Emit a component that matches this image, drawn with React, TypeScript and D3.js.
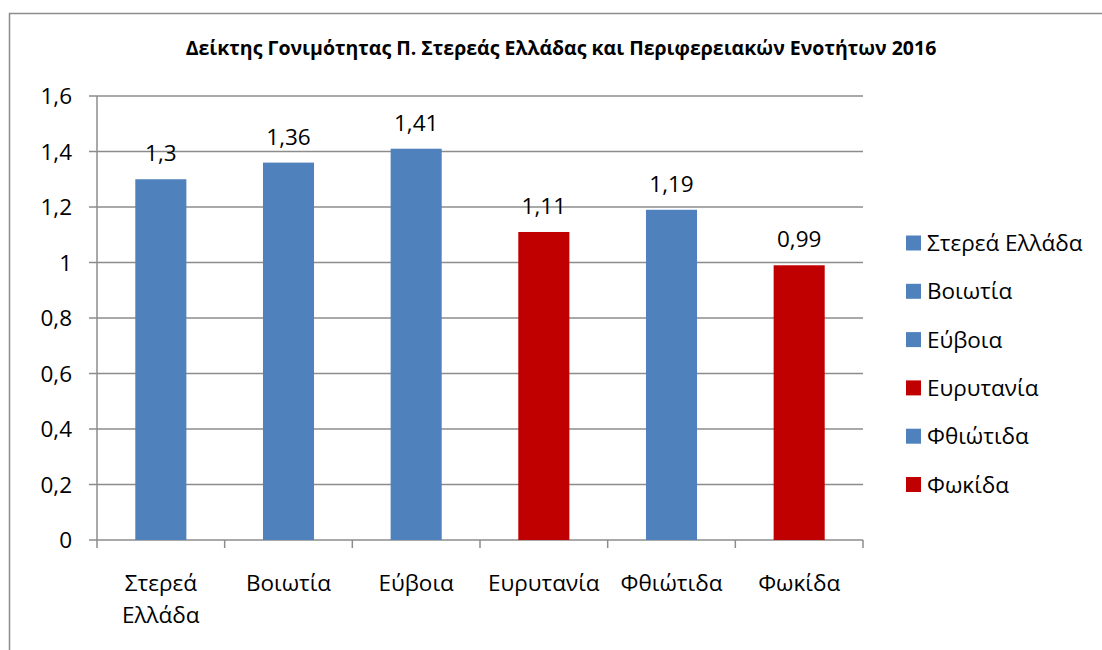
import React from 'react';
import { scaleBand, scaleLinear } from 'd3';

const categories = ['Στερεά Ελλάδα', 'Βοιωτία', 'Εύβοια', 'Ευρυτανία', 'Φθιώτιδα', 'Φωκίδα'];
const values = [1.3, 1.36, 1.41, 1.11, 1.19, 0.99];
const barColors = ['#4F81BD', '#4F81BD', '#4F81BD', '#C00000', '#4F81BD', '#C00000'];
const axisLines = [['Στερεά', 'Ελλάδα'], ['Βοιωτία'], ['Εύβοια'], ['Ευρυτανία'], ['Φθιώτιδα'], ['Φωκίδα']];
const yTicks = [0, 0.2, 0.4, 0.6, 0.8, 1, 1.2, 1.4, 1.6];
const title = 'Δείκτης Γονιμότητας Π. Στερεάς Ελλάδας και Περιφερειακών Ενοτήτων 2016';

const fmt = (v: number) => String(v).replace('.', ',');

export default function App() {
  const width = 1102, height = 650;
  const font = "'Open Sans', sans-serif";
  const grid = '#8c8c8c';
  const fs = 22.5;

  // plot area
  const margin = { left: 97, right: 1102 - 863, top: 96, bottom: 650 - 540 };

  const x = scaleBand<string>()
    .domain(categories)
    .range([margin.left, width - margin.right])
    .paddingInner(0.6)
    .paddingOuter(0.3);

  const y = scaleLinear()
    .domain([0, 1.6])
    .range([height - margin.bottom, margin.top]);

  const step = x.step();
  const x0 = margin.left;
  const x1 = width - margin.right;

  return (
    <svg width={width} height={height} style={{ position: 'absolute', left: 0, top: 0, background: '#fff' }}>
      {/* chart border */}
      <rect x={9.5} y={13.5} width={1200} height={800} fill="none" stroke={grid} strokeWidth={1.5} />

      <text x={561} y={55} textAnchor="middle" fontFamily={font} fontWeight="bold" fontSize={19.5} fill="#000">
        {title}
      </text>

      {/* gridlines + y axis */}
      {yTicks.map(t => (
        <g key={t}>
          <line x1={x0 - 8} x2={x1} y1={y(t)} y2={y(t)} stroke={grid} strokeWidth={1.5} />
          <text x={72} y={y(t) + 8} textAnchor="end" fontFamily={font} fontSize={fs} fill="#000">
            {fmt(t)}
          </text>
        </g>
      ))}
      <line x1={x0} x2={x0} y1={y(1.6)} y2={y(0) + 8} stroke={grid} strokeWidth={1.5} />

      {/* x ticks */}
      {categories.map((c, i) => (
        <line key={c} x1={x0 + step * (i + 1)} x2={x0 + step * (i + 1)} y1={y(0)} y2={y(0) + 8} stroke={grid} strokeWidth={1.5} />
      ))}

      {/* bars */}
      {categories.map((c, i) => (
        <g key={c}>
          <rect x={x(c)} y={y(values[i])} width={x.bandwidth()} height={y(0) - y(values[i])} fill={barColors[i]} />
          <text x={(x(c) as number) + x.bandwidth() / 2} y={y(values[i]) - 18} textAnchor="middle" fontFamily={font} fontSize={fs} fill="#000">
            {fmt(values[i])}
          </text>
        </g>
      ))}

      {/* category labels */}
      {categories.map((c, i) => (
        <text key={c} x={(x(c) as number) + x.bandwidth() / 2} y={591} textAnchor="middle" fontFamily={font} fontSize={fs} fill="#000">
          {axisLines[i].map((l, j) => (
            <tspan key={j} x={(x(c) as number) + x.bandwidth() / 2} dy={j === 0 ? 0 : 32}>{l}</tspan>
          ))}
        </text>
      ))}

      {/* legend */}
      {categories.map((c, i) => (
        <g key={c} transform={`translate(906, ${243 + i * 48.3})`}>
          <rect x={0} y={-7.5} width={15} height={15} fill={barColors[i]} />
          <text x={21} y={8} fontFamily={font} fontSize={fs} fill="#000">{c}</text>
        </g>
      ))}
    </svg>
  );
}
